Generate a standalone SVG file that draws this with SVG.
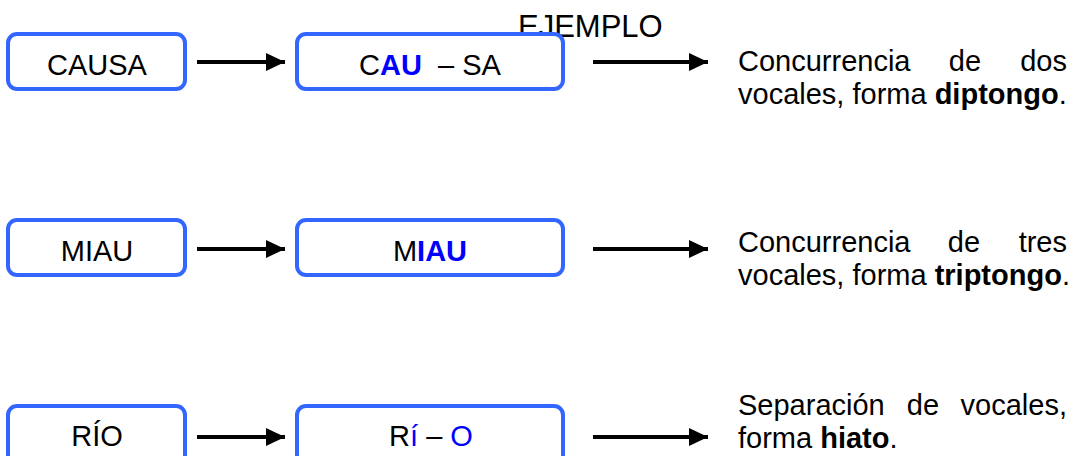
<svg xmlns="http://www.w3.org/2000/svg" width="1080" height="456" viewBox="0 0 1080 456">
<defs>
<style>
text{font-family:"Liberation Sans",Arial,sans-serif;font-size:29px;fill:#000}
.box{fill:#fff;stroke:#3366FF;stroke-width:4}
.b{font-weight:bold}
.blue{fill:#0000FF}
.conn line{stroke:#000;stroke-width:4}
.mid{text-anchor:middle}
.end{text-anchor:end}
</style>
<marker id="ah" markerUnits="userSpaceOnUse" markerWidth="20" markerHeight="18" refX="19" refY="9" orient="auto">
<path d="M0,0 L19,9 L0,18 Z" fill="#000"/>
</marker>
</defs>
<rect width="1080" height="456" fill="#fff"/>
<text id="ejemplo" x="518" y="37" style="font-size:31px">EJEMPLO</text>
<g id="causa"><rect class="box" x="8" y="34" width="177" height="55" rx="9"/><text class="mid" x="97" y="75">CAUSA</text></g>
<g id="cau-sa"><rect class="box" x="297" y="34" width="266" height="55" rx="9"/><text class="mid" x="430" y="75" xml:space="preserve">C<tspan class="b blue">AU</tspan>  – SA</text></g>
<g id="miau"><rect class="box" x="8" y="220" width="177" height="55" rx="9"/><text class="mid" x="97" y="261">MIAU</text></g>
<g id="miau2"><rect class="box" x="297" y="220" width="266" height="55" rx="9"/><text class="mid" x="430" y="261">M<tspan class="b blue">IAU</tspan></text></g>
<g id="rio"><rect class="box" x="8" y="406" width="177" height="60" rx="9"/><text class="mid" x="97" y="446">RÍO</text></g>
<g id="ri-o"><rect class="box" x="297" y="406" width="266" height="60" rx="9"/><text class="mid" x="431" y="446" xml:space="preserve">R<tspan class="blue">í</tspan> – <tspan class="blue">O</tspan></text></g>
<g id="desc1"><text x="738" y="71">Concurrencia</text><text class="mid" x="965" y="71">de</text><text class="end" x="1067" y="71">dos</text><text x="738" y="104">vocales, forma <tspan class="b">diptongo</tspan>.</text></g>
<g id="desc2"><text x="738" y="252">Concurrencia</text><text class="mid" x="964" y="252">de</text><text class="end" x="1067" y="252">tres</text><text x="738" y="285">vocales, forma <tspan class="b">triptongo</tspan>.</text></g>
<g id="desc3"><text x="738" y="415">Separación</text><text class="mid" x="923" y="415">de</text><text class="end" x="1067" y="415">vocales,</text><text x="738" y="448">forma <tspan class="b">hiato</tspan>.</text></g>
<g class="conn">
<line x1="197" y1="62" x2="285" y2="62" marker-end="url(#ah)"/>
<line x1="593" y1="62" x2="708" y2="62" marker-end="url(#ah)"/>
<line x1="197" y1="249" x2="285" y2="249" marker-end="url(#ah)"/>
<line x1="593" y1="249" x2="708" y2="249" marker-end="url(#ah)"/>
<line x1="197" y1="437" x2="285" y2="437" marker-end="url(#ah)"/>
<line x1="593" y1="437" x2="708" y2="437" marker-end="url(#ah)"/>
</g>
</svg>
